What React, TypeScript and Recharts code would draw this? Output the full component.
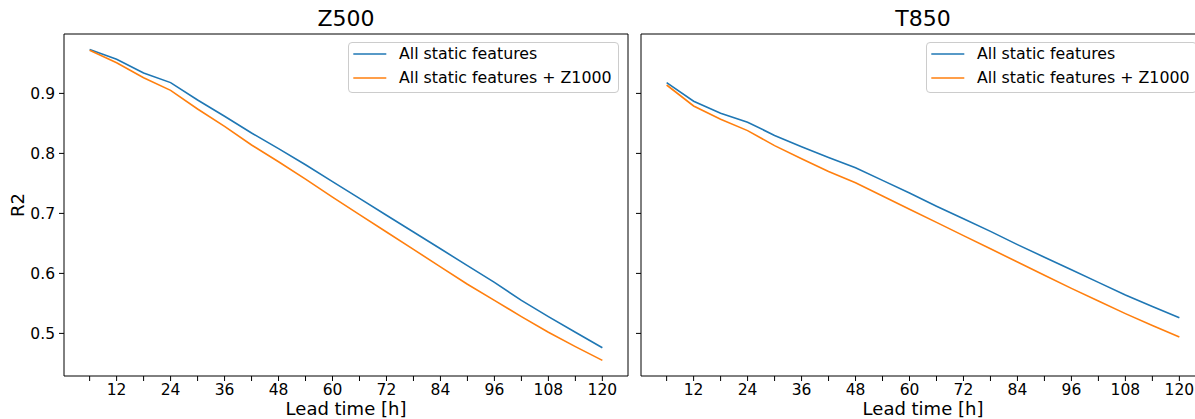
import React from 'react';
import { LineChart, Line, XAxis, YAxis, Legend, ReferenceLine } from 'recharts';

const FONT = '"DejaVu Sans", sans-serif';

// lead times in hours
const leadTimes = [6, 12, 18, 24, 30, 36, 42, 48, 54, 60, 66, 72, 78, 84, 90, 96, 102, 108, 114, 120];

// Z500 panel
const z500Static = [0.973, 0.957, 0.934, 0.918, 0.889, 0.862, 0.834, 0.808, 0.781, 0.753, 0.725, 0.697, 0.669, 0.641, 0.613, 0.585, 0.555, 0.528, 0.502, 0.476];
const z500StaticZ1000 = [0.972, 0.951, 0.926, 0.905, 0.874, 0.845, 0.814, 0.786, 0.757, 0.727, 0.698, 0.669, 0.640, 0.611, 0.582, 0.555, 0.528, 0.502, 0.478, 0.455];

// T850 panel
const t850Static = [0.918, 0.887, 0.867, 0.852, 0.830, 0.811, 0.793, 0.776, 0.755, 0.734, 0.712, 0.691, 0.670, 0.648, 0.627, 0.606, 0.585, 0.564, 0.545, 0.526];
const t850StaticZ1000 = [0.914, 0.879, 0.857, 0.838, 0.813, 0.791, 0.770, 0.751, 0.729, 0.707, 0.685, 0.663, 0.641, 0.619, 0.597, 0.575, 0.554, 0.533, 0.513, 0.494];

const yTicks = [0.5, 0.6, 0.7, 0.8, 0.9];
const seriesNames = ['All static features', 'All static features + Z1000'];
const seriesColors = ['#1f77b4', '#ff7f0e'];

const X_DOMAIN: [number, number] = [0.3, 125.7];
const Y_DOMAIN: [number, number] = [0.429, 0.999];

const buildRows = (a: number[], b: number[]) =>
  leadTimes.map((t, i) => ({ lead: t, base: a[i], withZ: b[i] }));

const LegendBox = () => (
  <div
    style={{
      position: 'relative',
      width: 271,
      height: 51,
      boxSizing: 'border-box',
      border: '1px solid #cccccc',
      borderRadius: 4,
      background: 'rgba(255,255,255,0.8)',
      fontFamily: FONT,
      fontSize: 15.8,
      color: '#000',
    }}
  >
    {seriesNames.map((name, i) => (
      <div key={name} style={{ position: 'absolute', left: 0, top: 11.6 + i * 23.4 - 10, height: 20, width: 300 }}>
        <svg width={40} height={20} style={{ position: 'absolute', left: 0, top: 0 }}>
          <line x1={4.3} x2={37.3} y1={10} y2={10} stroke={seriesColors[i]} strokeWidth={1.6} />
        </svg>
        <span style={{ position: 'absolute', left: 50, top: 0, lineHeight: '20px', whiteSpace: 'nowrap' }}>{name}</span>
      </div>
    ))}
  </div>
);

interface PanelProps {
  rows: { lead: number; base: number; withZ: number }[];
  left: number;
  width: number;
  yAxisWidth: number;
  marginRight: number;
  showYLabels: boolean;
  legendLeft: number;
}

const Panel = ({ rows, left, width, yAxisWidth, marginRight, showYLabels, legendLeft }: PanelProps) => (
  <div style={{ position: 'absolute', left, top: 0 }}>
    <LineChart width={width} height={419} data={rows} margin={{ top: 34, right: marginRight, bottom: 0, left: 0 }}>
      <XAxis
        xAxisId="bottom"
        dataKey="lead"
        type="number"
        domain={X_DOMAIN}
        allowDataOverflow
        ticks={leadTimes}
        interval={0}
        tickFormatter={(v: number) => (v % 12 === 0 ? String(v) : '')}
        height={43}
        tickSize={5}
        tickMargin={3}
        stroke="#000"
        tick={{ fill: '#000', fontSize: 15.5, fontFamily: FONT }}
      />
      <YAxis
        yAxisId="left"
        type="number"
        domain={Y_DOMAIN}
        allowDataOverflow
        ticks={yTicks}
        interval={0}
        width={yAxisWidth}
        tickSize={5}
        tickMargin={4}
        stroke="#000"
        tickFormatter={(v: number) => (showYLabels ? v.toFixed(1) : '')}
        tick={{ fill: '#000', fontSize: 15.5, fontFamily: FONT }}
      />
      {/* top and right spines */}
      <ReferenceLine xAxisId="bottom" yAxisId="left" y={Y_DOMAIN[1]} stroke="#000" strokeWidth={1} />
      <ReferenceLine xAxisId="bottom" yAxisId="left" x={X_DOMAIN[1]} stroke="#000" strokeWidth={1} />
      <Legend
        layout="horizontal"
        verticalAlign="middle"
        align="center"
        content={() => <LegendBox />}
        wrapperStyle={{ top: 41.7, left: legendLeft, width: 271, height: 51 }}
      />
      <Line
        xAxisId="bottom"
        yAxisId="left"
        type="linear"
        dataKey="base"
        name={seriesNames[0]}
        stroke={seriesColors[0]}
        strokeWidth={1.6}
        dot={false}
        isAnimationActive={false}
      />
      <Line
        xAxisId="bottom"
        yAxisId="left"
        type="linear"
        dataKey="withZ"
        name={seriesNames[1]}
        stroke={seriesColors[1]}
        strokeWidth={1.6}
        dot={false}
        isAnimationActive={false}
      />
    </LineChart>
  </div>
);

const textStyle: React.CSSProperties = {
  position: 'absolute',
  fontFamily: FONT,
  color: '#000',
  textAlign: 'center',
  whiteSpace: 'nowrap',
};

export default function App() {
  const z500Rows = buildRows(z500Static, z500StaticZ1000);
  const t850Rows = buildRows(t850Static, t850StaticZ1000);

  return (
    <div
      style={{
        position: 'absolute',
        left: 0,
        top: 0,
        width: 1195,
        height: 419,
        overflow: 'hidden',
        background: '#fff',
      }}
    >
      <Panel rows={z500Rows} left={0} width={640} yAxisWidth={64} marginRight={12} showYLabels legendLeft={348} />
      <Panel rows={t850Rows} left={621} width={594} yAxisWidth={20} marginRight={10} showYLabels={false} legendLeft={305} />

      <div style={{ ...textStyle, left: 246, width: 200, top: 8, fontSize: 22, lineHeight: '22px' }}>Z500</div>
      <div style={{ ...textStyle, left: 823, width: 200, top: 8, fontSize: 22, lineHeight: '22px' }}>T850</div>

      <div style={{ ...textStyle, left: 246, width: 200, top: 400, fontSize: 18, lineHeight: '18px' }}>Lead time [h]</div>
      <div style={{ ...textStyle, left: 823, width: 200, top: 400, fontSize: 18, lineHeight: '18px' }}>Lead time [h]</div>

      <div
        style={{
          ...textStyle,
          left: 18 - 30,
          top: 205 - 9,
          width: 60,
          fontSize: 18,
          lineHeight: '18px',
          transform: 'rotate(-90deg)',
        }}
      >
        R2
      </div>
    </div>
  );
}
